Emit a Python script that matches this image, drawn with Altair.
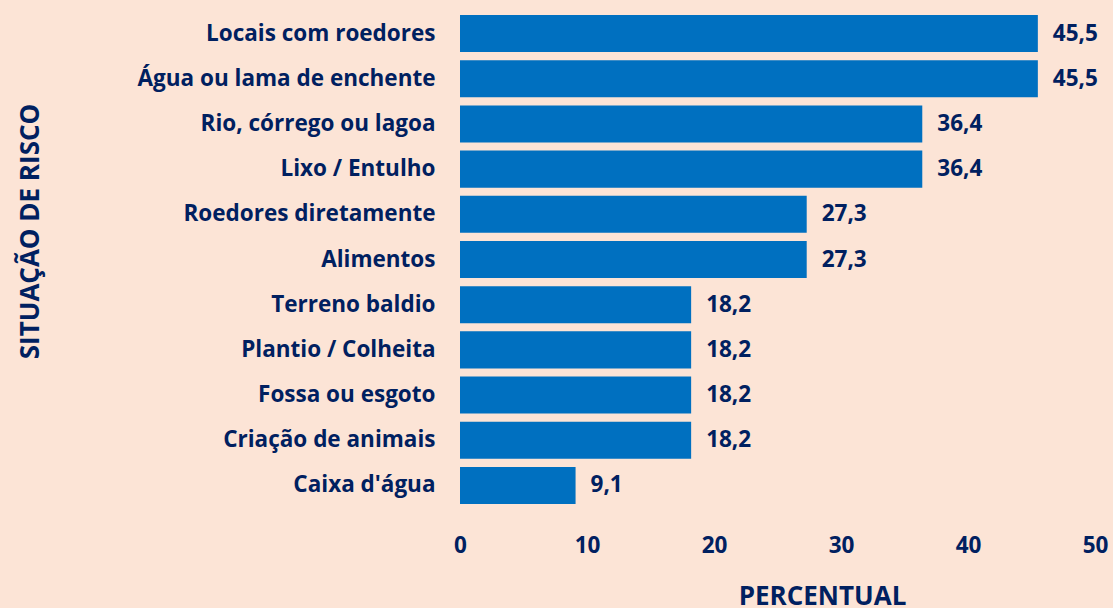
import altair as alt
import pandas as pd

categories = ["Locais com roedores", "Água ou lama de enchente", "Rio, córrego ou lagoa",
              "Lixo / Entulho", "Roedores diretamente", "Alimentos", "Terreno baldio",
              "Plantio / Colheita", "Fossa ou esgoto", "Criação de animais", "Caixa d'água"]
values = [45.5, 45.5, 36.4, 36.4, 27.3, 27.3, 18.2, 18.2, 18.2, 18.2, 9.1]
x_ticks = [0, 10, 20, 30, 40, 50]

df = pd.DataFrame({"cat": categories, "v": values})

FONT = "Open Sans"
NAVY = "#002060"
BG = "#FCE4D6"
BLUE = "#0070C0"
FS = 22.5
TFS = 26

y = alt.Y("cat:N", sort=categories,
          scale=alt.Scale(paddingInner=0.18, paddingOuter=0.09),
          axis=alt.Axis(title="SITUAÇÃO DE RISCO", domain=False, ticks=False,
                        labelPadding=25, labelFontSize=FS, labelFont=FONT,
                        labelFontWeight="bold", labelColor=NAVY, labelLimit=420,
                        titleFont=FONT, titleFontSize=TFS, titleFontWeight="bold",
                        titleColor=NAVY, titleX=-430, titleY=220, titleAngle=270,
                        titleAlign="center", titleBaseline="middle"))

x = alt.X("v:Q", scale=alt.Scale(domain=[0, 50], nice=False),
          axis=alt.Axis(title="PERCENTUAL", values=x_ticks, grid=False, domain=False,
                        ticks=False, labelPadding=26, labelFlush=False,
                        labelFontSize=FS, labelFont=FONT,
                        labelFontWeight="bold", labelColor=NAVY,
                        titleFont=FONT, titleFontSize=TFS, titleFontWeight="bold",
                        titleColor=NAVY, titleX=362, titleY=88,
                        titleAlign="center", titleBaseline="middle"))

bars = alt.Chart(df).mark_bar(color=BLUE).encode(x=x, y=y)

text = alt.Chart(df).transform_calculate(
    lab="replace(format(datum.v, '.1f'), '.', ',')"
).mark_text(align="left", baseline="middle", dx=15, font=FONT, fontSize=FS,
            fontWeight="bold", color=NAVY).encode(
    x=alt.X("v:Q"), y=alt.Y("cat:N", sort=categories), text="lab:N")

chart = (bars + text).properties(
    width=635, height=497, background=BG,
    autosize=alt.AutoSizeParams(type="none"),
    padding={"left": 460, "top": 11, "right": 18, "bottom": 100},
).configure_view(stroke=None)

chart.save("out.html", embed_options={"renderer": "svg", "actions": False})

with open("out.html", encoding="utf-8") as f:
    html = f.read()
css = "html,body{background:%s;overflow:hidden;margin:0;padding:0;}" % BG
html = html.replace("<head>", "<head><style>%s</style>" % css, 1)
with open("out.html", "w", encoding="utf-8") as f:
    f.write(html)
